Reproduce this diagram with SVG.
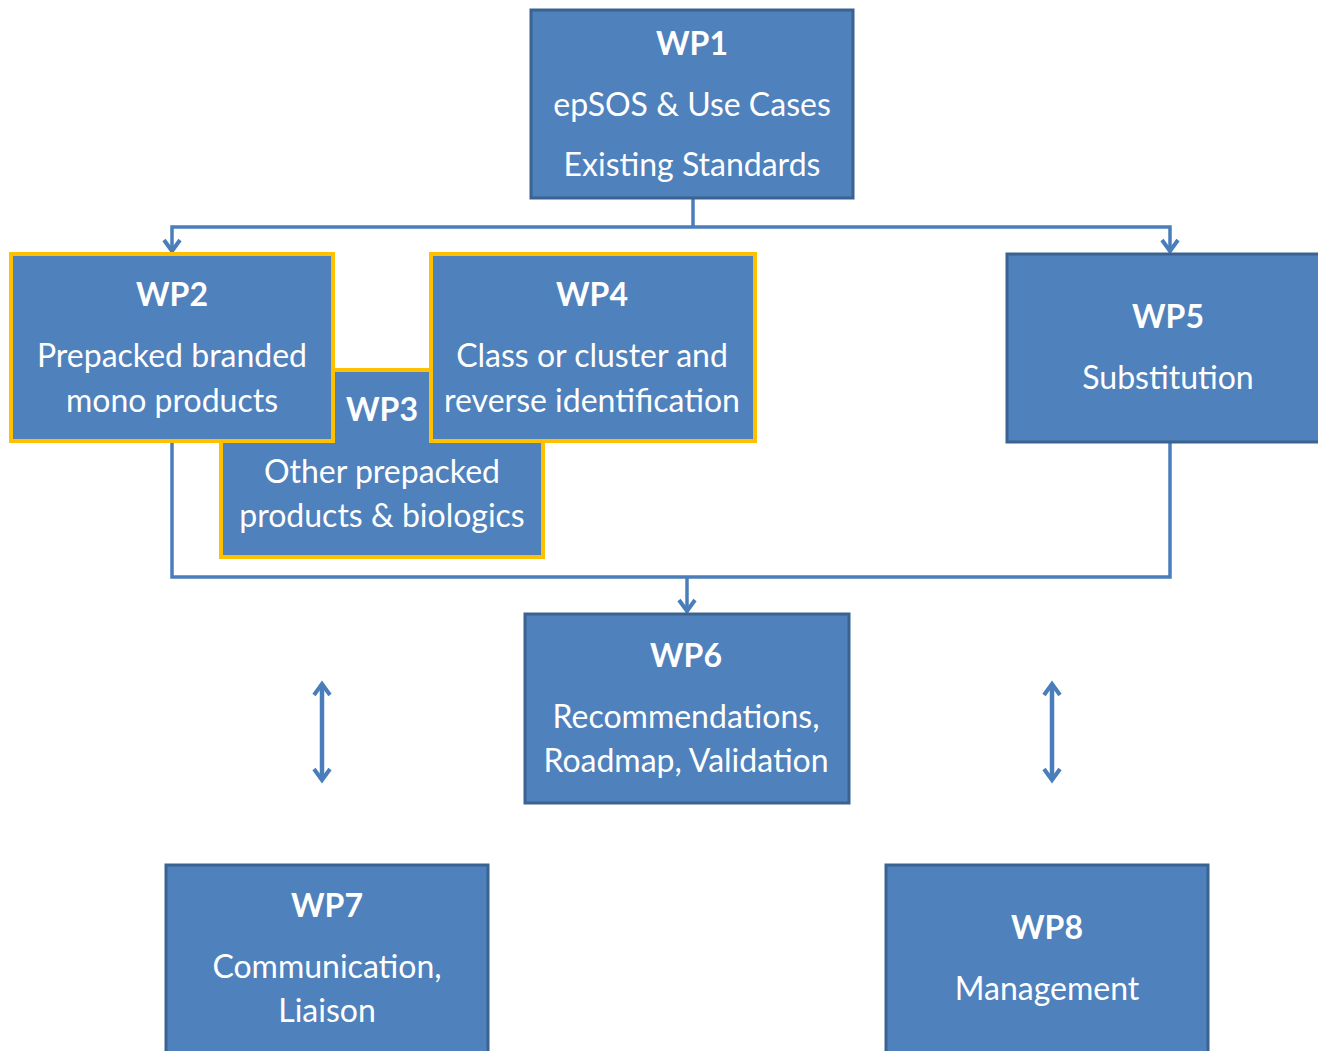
<svg xmlns="http://www.w3.org/2000/svg" width="1318" height="1051" viewBox="0 0 1318 1051">
<style>
.box{fill:#4f81bd;stroke:#3b6391;stroke-width:3}
.hl{fill:#4f81bd;stroke:#ffc000;stroke-width:4}
.t{fill:#fff;font-family:Lato,"Open Sans","Liberation Sans",sans-serif;font-size:32px;text-anchor:middle}
.b{font-weight:bold}
.c{fill:none;stroke:#4a7ebb;stroke-width:3.5}
.d{fill:none;stroke:#4a7ebb;stroke-width:4.5}
</style>
<defs>
<marker id="ah" viewBox="0 0 20 20" refX="16" refY="10" markerWidth="20" markerHeight="20" markerUnits="userSpaceOnUse" orient="auto-start-reverse">
<polyline points="5,2 16,10 5,18" fill="none" stroke="#4a7ebb" stroke-width="4" stroke-linejoin="miter"/>
</marker>
</defs>
<g id="connectors">
<polyline class="c" points="693,198 693,227"/>
<polyline class="c" points="172,251 172,227 1170,227 1170,251" marker-start="url(#ah)" marker-end="url(#ah)"/>
<polyline class="c" points="172,441 172,577 1170,577 1170,442"/>
<line class="c" x1="687" y1="577" x2="687" y2="611" marker-end="url(#ah)"/>
<line class="d" x1="322" y1="684" x2="322" y2="780" marker-start="url(#ah)" marker-end="url(#ah)"/>
<line class="d" x1="1052" y1="684" x2="1052" y2="780" marker-start="url(#ah)" marker-end="url(#ah)"/>
</g>
<g id="wp1">
<rect class="box" x="531" y="10" width="322" height="188"/>
<text class="t b" x="692" y="55">WP1</text>
<text class="t" x="692" y="116">epSOS &amp; Use Cases</text>
<text class="t" x="692" y="176">Existing Standards</text>
</g>
<g id="wp3">
<rect class="hl" x="221" y="370" width="322" height="187"/>
<text class="t b" x="382" y="421">WP3</text>
<text class="t" x="382" y="483">Other prepacked</text>
<text class="t" x="382" y="527">products &amp; biologics</text>
</g>
<g id="wp2">
<rect class="hl" x="11" y="254" width="322" height="187"/>
<text class="t b" x="172" y="306">WP2</text>
<text class="t" x="172" y="367">Prepacked branded</text>
<text class="t" x="172" y="412">mono products</text>
</g>
<g id="wp4">
<rect class="hl" x="431" y="254" width="324" height="187"/>
<text class="t b" x="592" y="306">WP4</text>
<text class="t" x="592" y="367">Class or cluster and</text>
<text class="t" x="592" y="412">reverse identification</text>
</g>
<g id="wp5">
<rect class="box" x="1007" y="254" width="322" height="188"/>
<text class="t b" x="1168" y="328">WP5</text>
<text class="t" x="1168" y="389">Substitution</text>
</g>
<g id="wp6">
<rect class="box" x="525" y="614" width="324" height="189"/>
<text class="t b" x="686" y="667">WP6</text>
<text class="t" x="686" y="728">Recommendations,</text>
<text class="t" x="686" y="772">Roadmap, Validation</text>
</g>
<g id="wp7">
<rect class="box" x="166" y="865" width="322" height="200"/>
<text class="t b" x="327" y="917">WP7</text>
<text class="t" x="327" y="978">Communication,</text>
<text class="t" x="327" y="1022">Liaison</text>
</g>
<g id="wp8">
<rect class="box" x="886" y="865" width="322" height="200"/>
<text class="t b" x="1047" y="939">WP8</text>
<text class="t" x="1047" y="1000">Management</text>
</g>
</svg>
